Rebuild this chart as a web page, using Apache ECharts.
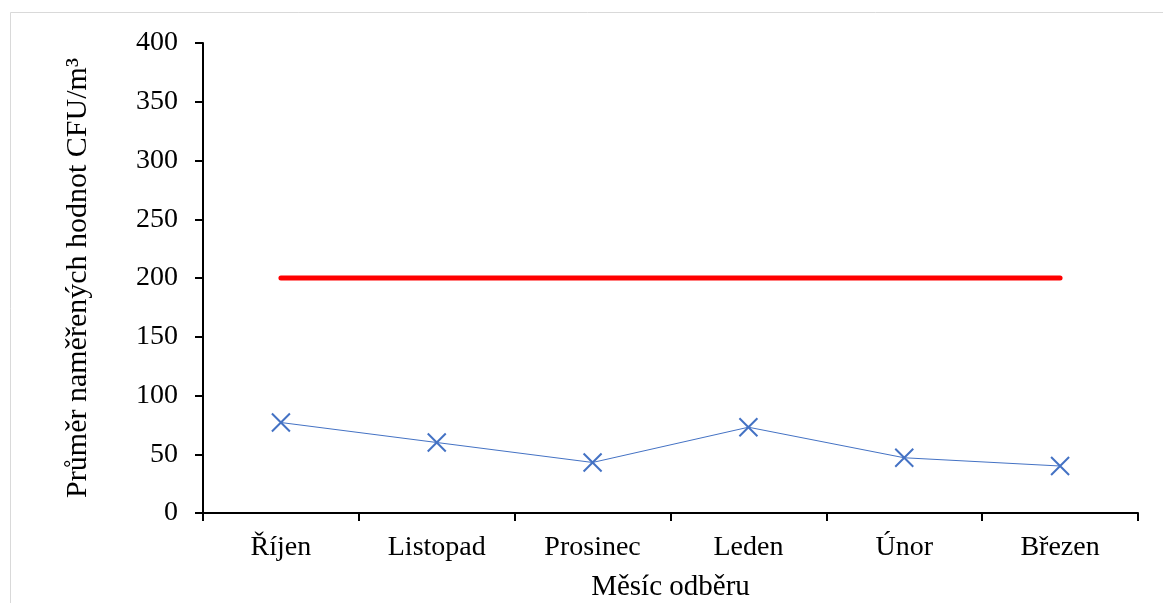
<!DOCTYPE html>
<html>
<head>
<meta charset="utf-8">
<script src="https://cdn.jsdelivr.net/npm/echarts@6/dist/echarts.min.js"></script>
<style>
  html, body { margin: 0; padding: 0; background: #fff; }
  #chart { width: 1163px; height: 603px; }
</style>
</head>
<body>
<div id="chart"></div>
<script>
// Monthly averages of airborne microbial counts (CFU/m³)
const months = ['Říjen', 'Listopad', 'Prosinec', 'Leden', 'Únor', 'Březen'];
const averages = [77, 60, 43, 73, 47, 40];
// Limit value shown as a reference line
const limitValues = [200, 200, 200, 200, 200, 200];
const yTicks = { min: 0, max: 400, interval: 50 };

const serif = '"Liberation Serif", "Times New Roman", serif';
const blue = '#4472C4';

const chart = echarts.init(document.getElementById('chart'));
chart.setOption({
  backgroundColor: '#ffffff',
  animation: false,
  graphic: [{
    type: 'rect',
    shape: { x: 10.5, y: 12.5, width: 1300, height: 800 },
    style: { fill: 'none', stroke: '#d9d9d9', lineWidth: 1 },
    silent: true
  }],
  grid: { left: 203, right: 25, top: 43, bottom: 90, containLabel: false, outerBoundsMode: 'none' },
  xAxis: {
    type: 'category',
    data: months,
    boundaryGap: true,
    axisLine: { lineStyle: { color: '#000', width: 2 } },
    axisTick: { show: true, length: 8, lineStyle: { color: '#000', width: 2 } },
    axisLabel: { color: '#000', fontFamily: serif, fontSize: 28, margin: 21 },
    name: 'Měsíc odběru',
    nameLocation: 'middle',
    nameGap: 60,
    nameTextStyle: { color: '#000', fontFamily: serif, fontSize: 29 }
  },
  yAxis: {
    type: 'value',
    min: yTicks.min,
    max: yTicks.max,
    interval: yTicks.interval,
    splitLine: { show: false },
    axisLine: { show: true, lineStyle: { color: '#000', width: 2 } },
    axisTick: { show: true, length: 8, lineStyle: { color: '#000', width: 2 } },
    axisLabel: { color: '#000', fontFamily: serif, fontSize: 28, margin: 25 },
    name: 'Průměr naměřených hodnot CFU/m³',
    nameLocation: 'middle',
    nameGap: 110,
    nameRotate: 90,
    nameTextStyle: { color: '#000', fontFamily: serif, fontSize: 30 }
  },
  series: [
    {
      name: 'Limit',
      type: 'line',
      data: limitValues,
      showSymbol: false,
      symbol: 'none',
      lineStyle: { color: '#ff0000', width: 5, cap: 'round' },
      z: 2
    },
    {
      name: 'Průměr',
      type: 'line',
      data: averages,
      symbol: 'path://M0,0L10,10M10,0L0,10',
      symbolSize: 18,
      itemStyle: { color: 'none', borderColor: blue, borderWidth: 2 },
      lineStyle: { color: blue, width: 1 },
      z: 3
    }
  ]
});
</script>
</body>
</html>
